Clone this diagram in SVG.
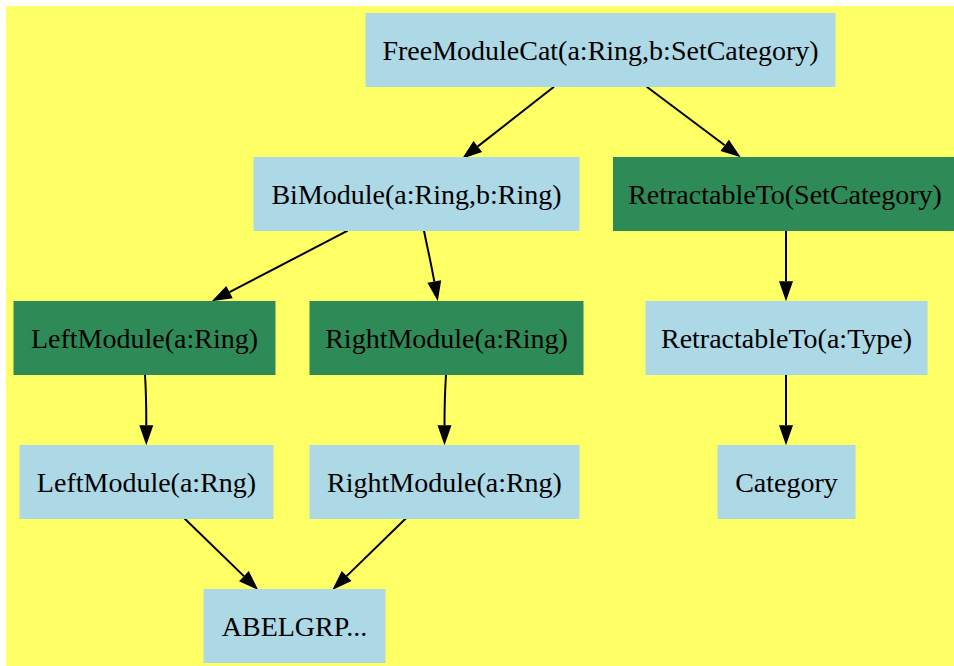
<svg xmlns="http://www.w3.org/2000/svg" width="954" height="666" viewBox="0 0 954 666">
<style>
  .bg { fill: #ffff66; }
  .lb { fill: #add8e6; stroke: #add8e6; stroke-width: 1; }
  .gr { fill: #2e8b57; stroke: #2e8b57; stroke-width: 1; }
  .lbl { font-family: "Liberation Serif", "Times New Roman", serif; font-size: 28px; fill: #000; text-anchor: middle; }
  .edge { fill: none; stroke: #000; stroke-width: 2; marker-end: url(#arr); }
</style>
<defs>
  <marker id="arr" markerUnits="userSpaceOnUse" markerWidth="20" markerHeight="14" refX="0" refY="7" orient="auto" overflow="visible">
    <path d="M0,0 L20,7 L0,14 z" fill="#000"/>
  </marker>
</defs>
<rect class="bg" x="6" y="6" width="948" height="660"/>
<g id="edges">
  <path class="edge" d="M554,86.7 L477.8,146.4"/>
  <path class="edge" d="M646.7,86.7 L724.7,145.3"/>
  <path class="edge" d="M347.7,230.7 L229.5,292.1"/>
  <path class="edge" d="M424,230.7 C427,246 431,263 434.3,281.5"/>
  <path class="edge" d="M786,230.7 L786,281.3"/>
  <path class="edge" d="M786,374.7 L786,425.3"/>
  <path class="edge" d="M145,374.7 C146,390 146.3,405 146.3,425.3"/>
  <path class="edge" d="M446,374.7 C445,390 444.5,405 444.5,425.3"/>
  <path class="edge" d="M184.3,518.3 L243.9,576.1"/>
  <path class="edge" d="M406,518.3 L346.6,576.1"/>
</g>
<g id="n_free">
  <rect class="lb" x="366" y="13.5" width="469" height="73"/>
  <text class="lbl" x="600.5" y="60">FreeModuleCat(a:Ring,b:SetCategory)</text>
</g>
<g id="n_bi">
  <rect class="lb" x="254" y="157.5" width="325" height="73"/>
  <text class="lbl" x="416.5" y="204">BiModule(a:Ring,b:Ring)</text>
</g>
<g id="n_retset">
  <rect class="gr" x="613.5" y="157.5" width="346" height="73"/>
  <text class="lbl" x="785" y="204">RetractableTo(SetCategory)</text>
</g>
<g id="n_leftring">
  <rect class="gr" x="14" y="301.5" width="261" height="73"/>
  <text class="lbl" x="144.5" y="348">LeftModule(a:Ring)</text>
</g>
<g id="n_rightring">
  <rect class="gr" x="310" y="301.5" width="273" height="73"/>
  <text class="lbl" x="446.5" y="348">RightModule(a:Ring)</text>
</g>
<g id="n_rettype">
  <rect class="lb" x="646" y="301.5" width="281" height="73"/>
  <text class="lbl" x="786.5" y="348">RetractableTo(a:Type)</text>
</g>
<g id="n_leftrng">
  <rect class="lb" x="20" y="445.5" width="253" height="73"/>
  <text class="lbl" x="146.5" y="492">LeftModule(a:Rng)</text>
</g>
<g id="n_rightrng">
  <rect class="lb" x="310" y="445.5" width="269" height="73"/>
  <text class="lbl" x="444.5" y="492">RightModule(a:Rng)</text>
</g>
<g id="n_cat">
  <rect class="lb" x="718" y="445.5" width="137" height="73"/>
  <text class="lbl" x="786.5" y="492">Category</text>
</g>
<g id="n_abel">
  <rect class="lb" x="204" y="589.5" width="181" height="73"/>
  <text class="lbl" x="294.5" y="636">ABELGRP...</text>
</g>
</svg>
